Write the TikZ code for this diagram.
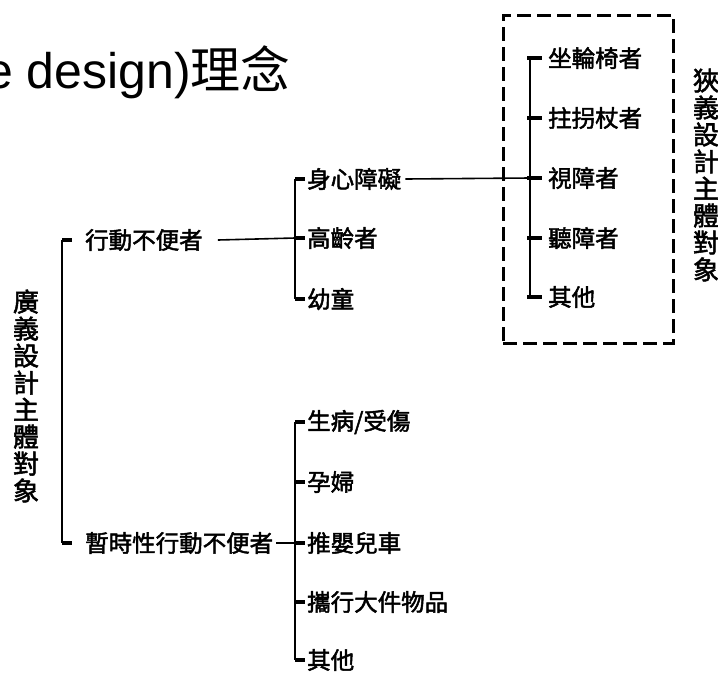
\documentclass[tikz,border=0pt]{standalone}
\usepackage{fontspec}
\setmainfont{Liberation Sans}
\newfontfamily\cjk[FakeBold=2]{Noto Sans CJK TC}
\newfontfamily\cjkthin{Noto Sans CJK TC}
\usetikzlibrary{calc}

\begin{document}
\begin{tikzpicture}[
    x=1pt,y=-1pt,
    item/.style={anchor=west,inner sep=0pt,font=\cjk\fontsize{23.5}{27}\selectfont},
    vlabel/.style={align=center,inner sep=0pt,font=\cjk\fontsize{26}{27}\selectfont},
    bar/.style={line width=1.8pt},
    stub/.style={line width=4pt},
    link/.style={line width=1.6pt},
    frame/.style={draw,line width=3pt,dash pattern=on 14pt off 6pt,minimum width=170pt,minimum height=328pt,inner sep=0pt}
]
    \useasboundingbox (0,0) rectangle (718,673);
    \node[anchor=base west,inner sep=0pt,font=\fontsize{50}{50}\selectfont] (title) at (-15,88) {e design){\cjkthin 理念}};

    \node[vlabel] (wide) at (26,396) {廣\\義\\設\\計\\主\\體\\對\\象};
    \node[vlabel] (narrowlbl) at (706,175) {狹\\義\\設\\計\\主\\體\\對\\象};
    \node[frame] (narrow) at (588,179) {};

    \node[item] (mob) at (85,240) {行動不便者};
    \node[item] (tmp) at (85,543) {暫時性行動不便者};

    \node[item] (dis) at (307,179) {身心障礙};
    \node[item] (old) at (307,238) {高齡者};
    \node[item] (kid) at (307,299) {幼童};

    \node[item] (sick) at (307,422) {生病/受傷};
    \node[item] (preg) at (307,482) {孕婦};
    \node[item] (pram) at (307,543) {推嬰兒車};
    \node[item] (carry) at (307,602) {攜行大件物品};
    \node[item] (misc) at (307,660) {其他};

    \node[item] (wheel) at (548,58) {坐輪椅者};
    \node[item] (crutch) at (548,118) {拄拐杖者};
    \node[item] (blind) at (548,178) {視障者};
    \node[item] (deaf) at (548,238) {聽障者};
    \node[item] (rest) at (548,297) {其他};

    \coordinate (m1) at (62,240);
    \coordinate (m2) at (62,543);
    \coordinate (a1) at (295,179);
    \coordinate (a2) at (295,238);
    \coordinate (a3) at (295,299);
    \coordinate (t1) at (295,422);
    \coordinate (t3) at (295,543);
    \coordinate (t5) at (295,660);
    \coordinate (n1) at (530,58);
    \coordinate (n3) at (530,178);
    \coordinate (n5) at (530,297);

    % main branch
    \draw[bar] (m1) -- (m2);
    \draw[stub] (m1) -- ++(10,0);
    \draw[stub] (m2) -- ++(10,0);
    \draw[link] ([xshift=15pt]mob.east) -- (a2);
    \draw[link] ([xshift=3pt]tmp.east) -- (t3);
    \draw[link] ([xshift=4pt]dis.east) -- (n3);

    % sub branches
    \draw[bar] (a1) -- (a3);
    \draw[bar] (t1) -- (t5);
    \draw[bar] (n1) -- (n5);
    \foreach \n in {dis,old,kid,sick,preg,pram,carry,misc}
        \draw[stub] ([xshift=-12pt]\n.west) -- ([xshift=-2pt]\n.west);
    \foreach \n in {wheel,crutch,blind,deaf,rest}
        \draw[stub] ([xshift=-21pt]\n.west) -- ([xshift=-6pt]\n.west);
\end{tikzpicture}
\end{document}
